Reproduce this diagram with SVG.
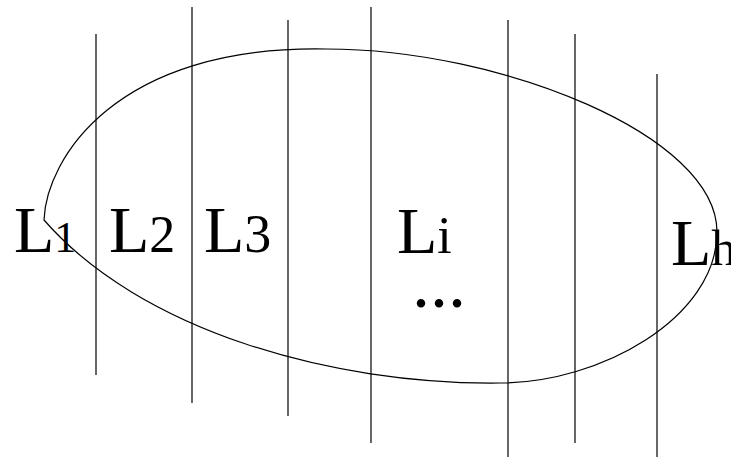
<svg xmlns="http://www.w3.org/2000/svg" width="731" height="458" viewBox="0 0 731 458">
<style>
.ln{stroke:#000;stroke-width:1.2;fill:none}
.lbl{font-family:"Liberation Serif","Times New Roman",serif;font-size:66px;fill:#000}
</style>
<rect width="731" height="458" fill="#fff"/>
<g id="connectors">
<path id="region" class="ln" d="M44,220 C46,160 115,45 326,49 C500,49 717,135 717,232 C717,318 600,383 500,383 C330,385 140,330 44,220 Z"/>
<line class="ln" x1="96" y1="34" x2="96" y2="375"/>
<line class="ln" x1="192" y1="7" x2="192" y2="403"/>
<line class="ln" x1="288" y1="20" x2="288" y2="416"/>
<line class="ln" x1="371" y1="7" x2="371" y2="443"/>
<line class="ln" x1="508" y1="20" x2="508" y2="457"/>
<line class="ln" x1="575" y1="34" x2="575" y2="443"/>
<line class="ln" x1="657" y1="74" x2="657" y2="457"/>
</g>
<g id="L1"><text class="lbl" x="14" y="252">L<tspan style="font-size:44px">1</tspan></text></g>
<g id="L2"><text class="lbl" x="109" y="252">L<tspan style="font-size:52px">2</tspan></text></g>
<g id="L3"><text class="lbl" x="204" y="252">L<tspan style="font-size:54px">3</tspan></text></g>
<g id="Li"><text class="lbl" x="397" y="253">L<tspan style="font-size:52px">i</tspan></text></g>
<g id="Lh"><text class="lbl" x="671" y="265">L<tspan style="font-size:50px">h</tspan></text></g>
<g id="dots"><text class="lbl" x="412" y="307" style="font-size:72px">...</text></g>
</svg>
